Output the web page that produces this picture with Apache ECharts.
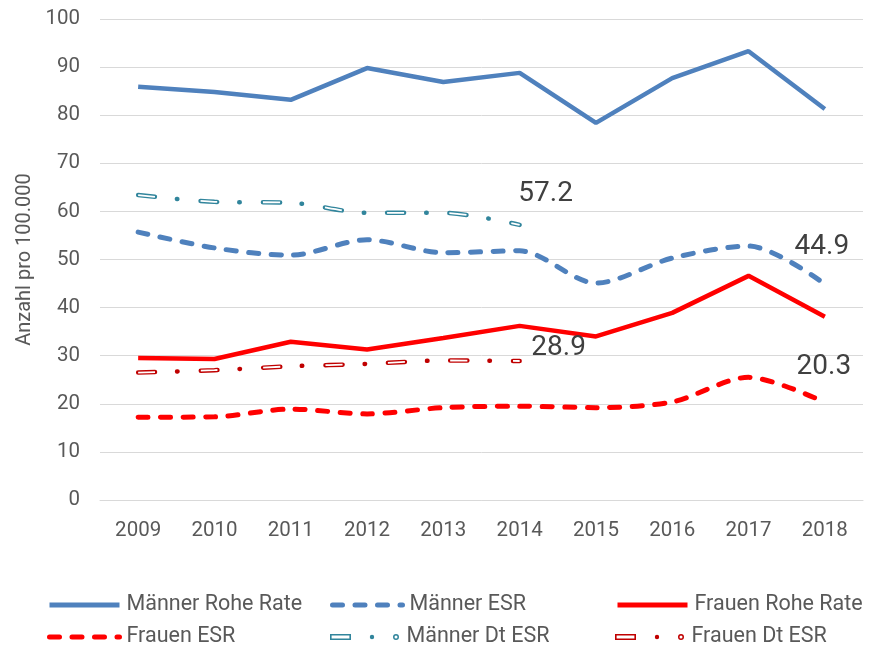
<!DOCTYPE html>
<html><head><meta charset="utf-8">
<script src="https://cdn.jsdelivr.net/npm/echarts@6/dist/echarts.min.js"></script>
<style>html,body{margin:0;padding:0;background:#fff}#c{width:871px;height:649px}</style>
</head><body><div id="c"></div>
<script>
const years = ['2009','2010','2011','2012','2013','2014','2015','2016','2017','2018'];
const maennerRohe = [85.9, 84.8, 83.2, 89.8, 86.9, 88.8, 78.4, 87.7, 93.3, 81.3];
const maennerESR = [55.7, 52.4, 50.9, 54.1, 51.4, 51.8, 45.1, 50.3, 52.8, 44.9];
const frauenRohe = [29.5, 29.3, 32.9, 31.3, 33.7, 36.2, 34.0, 38.9, 46.6, 38.1];
const frauenESR = [17.2, 17.3, 18.9, 17.9, 19.2, 19.5, 19.2, 20.4, 25.5, 20.3];
const maennerDt = [63.4, 62.0, 61.8, 59.7, 59.7, 57.2];
const frauenDt = [26.5, 27.0, 27.8, 28.3, 29.0, 28.9];
const yTicks = [0,10,20,30,40,50,60,70,80,90,100];

const FONT = 'Roboto';
const txt = '#595959';
const C_MB = '#4F81BD', C_FR = '#FF0000', C_MD = '#31859C', C_FD = '#C00000';

function markLabel(x, y, off) {
  return {
    symbol: 'circle', symbolSize: 1, silent: true,
    itemStyle: {color: 'rgba(0,0,0,0)'},
    data: [{coord: [x, y], value: y.toFixed(1)}],
    label: {show: true, position: 'inside', offset: off, formatter: '{c}',
      fontSize: 28, fontFamily: FONT, color: '#404040'}
  };
}
const dtPattern = [17, 22, 0.5, 23];
const dtInner = [17, 45.5];

const series = [
  {name: 'Männer Rohe Rate', type: 'line', data: maennerRohe, symbol: 'none',
    lineStyle: {color: C_MB, width: 4.5}, itemStyle: {color: C_MB}},
  {name: 'Männer ESR', type: 'line', data: maennerESR, symbol: 'none', smooth: 0.3,
    lineStyle: {color: C_MB, width: 5, type: [10, 12.5], cap: 'round'}, itemStyle: {color: C_MB},
    markPoint: markLabel(9, maennerESR[9], [-3, -37])},
  {name: 'Frauen Rohe Rate', type: 'line', data: frauenRohe, symbol: 'none',
    lineStyle: {color: C_FR, width: 4.5}, itemStyle: {color: C_FR}},
  {name: 'Frauen ESR', type: 'line', data: frauenESR, symbol: 'none', smooth: 0.3,
    lineStyle: {color: C_FR, width: 5, type: [10, 12.5], cap: 'round'}, itemStyle: {color: C_FR},
    markPoint: markLabel(9, frauenESR[9], [-1, -35])},
  {name: 'Männer Dt ESR', type: 'line', data: maennerDt, symbol: 'none', smooth: 0.3,
    lineStyle: {color: C_MD, width: 4.5, type: dtPattern, cap: 'round'}, itemStyle: {color: C_MD},
    markPoint: markLabel(5, maennerDt[5], [26, -31])},
  {name: 'Männer Dt ESR ', type: 'line', data: maennerDt, symbol: 'none', smooth: 0.3, silent: true,
    lineStyle: {color: '#fff', width: 1.8, type: dtInner, cap: 'butt'}, itemStyle: {color: '#fff'}},
  {name: 'Frauen Dt ESR', type: 'line', data: frauenDt, symbol: 'none', smooth: 0.3,
    lineStyle: {color: C_FD, width: 4.5, type: dtPattern, cap: 'round'}, itemStyle: {color: C_FD},
    markPoint: markLabel(5, frauenDt[5], [39, -13])},
  {name: 'Frauen Dt ESR ', type: 'line', data: frauenDt, symbol: 'none', smooth: 0.3, silent: true,
    lineStyle: {color: '#fff', width: 1.8, type: dtInner, cap: 'butt'}, itemStyle: {color: '#fff'}}
];

// hollow dash, dot, hollow circle icon (legend only)
const dtIcon = 'path://M0,4 L21,4 L21,10 L0,10 Z M1.6,5.6 L1.6,8.4 L19.4,8.4 L19.4,5.6 Z ' +
  'M39.8,7 A2.2,2.2 0 1 0 44.2,7 A2.2,2.2 0 1 0 39.8,7 Z ' +
  'M63,7 A3,3 0 1 0 69,7 A3,3 0 1 0 63,7 Z M64.5,7 A1.5,1.5 0 1 1 67.5,7 A1.5,1.5 0 1 1 64.5,7 Z';

function leg(name, left, top, w, icon) {
  return {data: [icon ? {name: name, icon: icon} : name], left: left, top: top, padding: 0,
    itemWidth: 70, itemHeight: icon ? 6 : 14, itemGap: 0, selectedMode: false,
    itemStyle: icon ? {} : {opacity: 0},
    lineStyle: {width: w, type: 'inherit', cap: 'inherit'},
    textStyle: {fontSize: 21.5, fontFamily: FONT, color: txt, padding: [0, 0, 0, 2]}};
}

const chart = echarts.init(document.getElementById('c'));
chart.setOption({
  animation: false,
  grid: {left: 100, right: 8, top: 19, bottom: 149},
  xAxis: {type: 'category', data: years, boundaryGap: true,
    axisLine: {lineStyle: {color: '#D9D9D9'}}, axisTick: {show: false},
    axisLabel: {fontSize: 20.5, fontFamily: FONT, color: txt, margin: 20}},
  yAxis: {type: 'value', min: yTicks[0], max: yTicks[yTicks.length-1], interval: 10,
    name: 'Anzahl pro 100.000', nameLocation: 'middle', nameGap: 62, nameRotate: 90,
    nameTextStyle: {fontSize: 20, fontFamily: FONT, color: txt},
    splitLine: {lineStyle: {color: '#D9D9D9', width: 1}},
    axisLabel: {fontSize: 20.5, fontFamily: FONT, color: txt, margin: 20}},
  legend: [
    leg('Männer Rohe Rate', 47, 594, 5),
    leg('Männer ESR', 330, 594, 5),
    leg('Frauen Rohe Rate', 615, 594, 5),
    leg('Frauen ESR', 47, 626, 5),
    leg('Männer Dt ESR', 330, 626, 4.5, dtIcon),
    leg('Frauen Dt ESR', 615, 626, 4.5, dtIcon)
  ],
  series: series
});
</script></body></html>
